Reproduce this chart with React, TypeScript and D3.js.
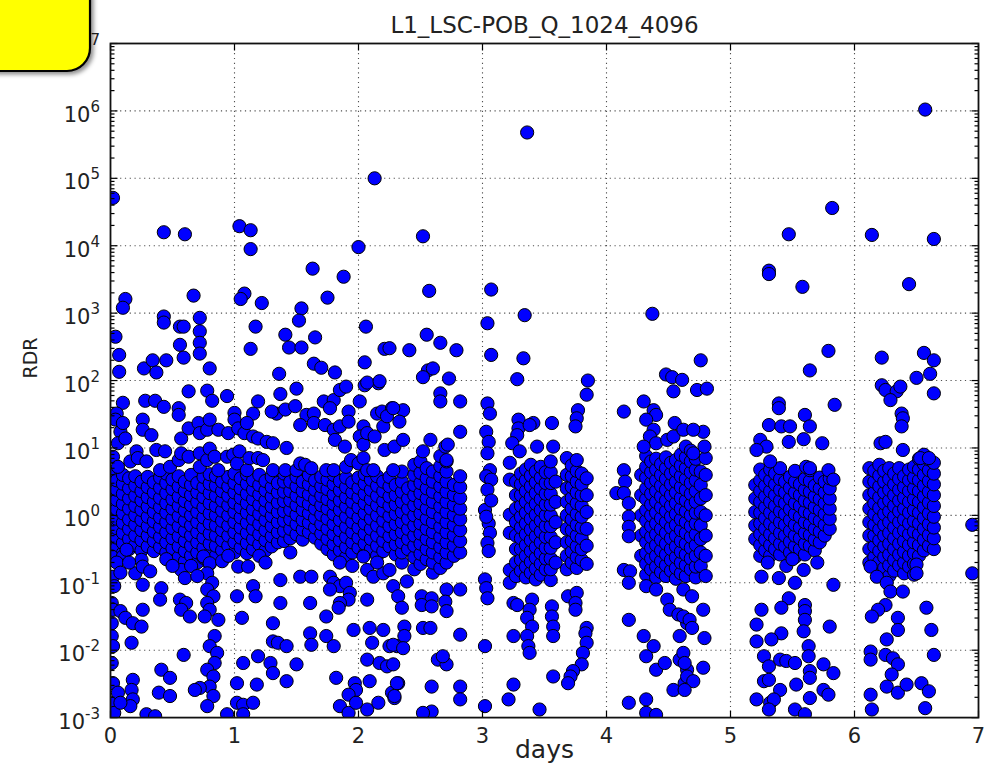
import React from "react";
import * as d3 from "d3";

const titleText = "L1_LSC-POB_Q_1024_4096";
const xLabelText = "days";
const yLabelText = "RDR";
const xTickValues = [0, 1, 2, 3, 4, 5, 6, 7];
const yTickExponents = [-3, -2, -1, 0, 1, 2, 3, 4, 5, 6, 7];

// isolated points: [day, log10(RDR)]
const highOutliers: [number, number][] = [
  [0.02, 4.71], [0.43, 4.2], [0.6, 4.17], [1.04, 4.29], [1.13, 4.23], [1.13, 3.95], [2.13, 5.0], [2.0, 3.98],
  [1.63, 3.66], [1.88, 3.54], [0.12, 3.21], [0.1, 3.08], [0.67, 3.26], [1.08, 3.29], [1.05, 3.21], [1.22, 3.15],
  [1.54, 3.07], [1.52, 2.89], [1.75, 3.23], [0.43, 2.95], [0.43, 2.86], [0.56, 2.8], [0.59, 2.8], [0.72, 2.93],
  [0.72, 2.73], [0.72, 2.56], [0.72, 2.4], [0.56, 2.53], [0.59, 2.34], [0.04, 2.65], [0.07, 2.38], [0.07, 2.13],
  [0.27, 2.18], [0.34, 2.3], [0.37, 2.12], [0.45, 2.3], [0.8, 2.18], [1.17, 2.8], [1.13, 2.47], [1.41, 2.68],
  [1.44, 2.49], [1.54, 2.49], [1.65, 2.64], [1.64, 2.25], [1.7, 2.19], [1.81, 2.12], [1.36, 2.1], [2.06, 2.8],
  [2.21, 2.47], [2.05, 2.27], [2.07, 1.97], [2.17, 1.99],
  [2.52, 4.14], [2.57, 3.33], [2.55, 2.68], [2.66, 2.56], [2.79, 2.45], [2.41, 2.45], [2.25, 2.48], [2.56, 2.15],
  [2.6, 2.18], [2.52, 2.05], [2.73, 2.03], [3.07, 3.35], [3.04, 2.85], [3.07, 2.38], [3.34, 2.97], [3.33, 2.33],
  [3.36, 5.68], [3.28, 2.02], [3.85, 2.0], [4.37, 2.99], [4.48, 2.09], [4.53, 2.05], [4.61, 2.01],
  [6.57, 6.02], [5.82, 4.56], [5.47, 4.17], [6.14, 4.16], [6.64, 4.1], [5.31, 3.63], [5.31, 3.58], [5.58, 3.39],
  [6.44, 3.43], [4.76, 2.3], [5.79, 2.44], [5.64, 2.15], [6.22, 2.34], [6.56, 2.41], [6.64, 2.3], [6.61, 2.1], [6.5, 2.04],
];

const upperA: [number, number][] = [
  [0.1, 1.67], [0.05, 1.51], [0.28, 1.7], [0.36, 1.7], [0.43, 1.61], [0.55, 1.59], [0.55, 1.49], [0.63, 1.84],
  [0.78, 1.85], [0.82, 1.7], [0.94, 1.77], [1.0, 1.52], [1.15, 1.51], [1.19, 1.69], [1.37, 1.8], [1.34, 1.51],
  [1.3, 1.54], [1.41, 1.57], [1.5, 1.88], [1.49, 1.62], [1.58, 1.49], [1.64, 1.51], [1.72, 1.69], [1.8, 1.71],
  [1.77, 1.59], [1.85, 1.86], [1.9, 1.91], [1.92, 1.54], [2.01, 1.69], [2.05, 1.93], [2.16, 1.96], [2.15, 1.51],
  [2.19, 1.54], [2.27, 1.59],
  [0.04, 1.42], [0.08, 1.24], [0.1, 1.37], [0.06, 1.07], [0.12, 1.14], [0.26, 1.42], [0.26, 1.27], [0.33, 1.19],
  [0.37, 0.97], [0.44, 0.95], [0.57, 1.14], [0.63, 1.29], [0.71, 1.37], [0.72, 1.22], [0.78, 1.27], [0.8, 1.42],
  [0.87, 1.27], [0.95, 1.22], [1.0, 1.42], [1.03, 1.29], [1.08, 1.22], [1.1, 1.37], [1.15, 1.17], [1.19, 1.14],
  [1.26, 1.09], [1.31, 1.07], [1.42, 1.0], [1.53, 1.34], [1.64, 1.37], [1.73, 1.34], [1.8, 1.27], [1.81, 1.12],
  [1.85, 1.32], [1.92, 1.39], [1.89, 1.02], [2.04, 1.32], [2.01, 1.17], [2.04, 1.05], [2.07, 1.22], [2.13, 1.17],
  [2.2, 1.32], [2.23, 1.47], [2.21, 0.97], [2.29, 1.02],
  [0.02, 0.87], [0.06, 0.72], [0.16, 0.8], [0.21, 0.95], [0.22, 0.85], [0.29, 0.8], [0.4, 0.67], [0.48, 0.72],
  [0.55, 0.82], [0.57, 0.92], [0.63, 0.87], [0.72, 0.92], [0.72, 0.72], [0.78, 0.82], [0.8, 0.99], [0.84, 0.87],
  [0.87, 0.67], [0.94, 0.87], [0.99, 0.9], [1.02, 0.77], [1.04, 0.95], [1.1, 0.67], [1.12, 0.85], [1.19, 0.85],
  [1.23, 0.82], [1.31, 0.67], [1.41, 0.67], [1.5, 0.67], [1.53, 0.77], [1.57, 0.75], [1.62, 0.7], [1.74, 0.67],
  [1.8, 0.67], [1.9, 0.72], [1.94, 0.82], [2.0, 0.77], [2.04, 0.85], [2.07, 0.67], [2.12, 0.67], [2.28, 0.67],
  [2.66, 1.81], [2.66, 1.69], [2.82, 1.69], [2.36, 1.56], [2.28, 1.59], [2.33, 1.39], [2.82, 1.24], [2.36, 1.12],
  [2.58, 1.12], [2.52, 0.95], [2.7, 1.02], [2.72, 1.05], [2.71, 0.82],
];

const lowerA: [number, number][] = [
  [0.01, -0.61], [0.02, -0.91], [0.03, -1.05], [0.01, -1.3], [0.02, -1.4], [0.01, -1.6], [0.01, -1.79], [0.02, -1.94],
  [0.01, -2.19], [0.02, -2.49], [0.01, -2.78], [0.03, -2.93], [0.1, -0.61], [0.13, -0.51], [0.2, -0.86], [0.25, -0.66],
  [0.26, -0.76], [0.32, -0.83], [0.26, -1.03], [0.41, -1.08], [0.4, -1.25], [0.08, -1.42], [0.12, -1.52], [0.18, -1.6],
  [0.25, -1.65], [0.26, -1.4], [0.17, -1.89], [0.41, -2.29], [0.48, -2.41], [0.39, -2.63], [0.48, -2.68], [0.18, -2.44],
  [0.17, -2.59], [0.18, -2.73], [0.16, -2.83], [0.06, -2.63], [0.08, -2.78], [0.29, -2.95], [0.36, -2.98], [0.57, -0.81],
  [0.6, -0.93], [0.56, -1.25], [0.61, -1.3], [0.57, -1.4], [0.64, -1.5], [0.59, -2.07], [0.75, -0.61], [0.8, -0.71],
  [0.78, -0.86], [0.82, -1.0], [0.78, -1.1], [0.83, -1.2], [0.78, -1.3], [0.8, -1.4], [0.76, -1.5], [0.84, -1.79],
  [0.8, -1.94], [0.86, -2.04], [0.84, -2.19], [0.78, -2.29], [0.83, -2.39], [0.8, -2.54], [0.72, -2.56], [0.68, -2.59],
  [0.83, -2.68], [0.78, -2.83], [0.87, -1.55], [1.03, -0.76], [1.11, -0.76], [1.02, -1.2], [1.15, -1.05], [1.17, -1.2],
  [1.06, -1.52], [1.07, -2.19], [1.02, -2.49], [1.18, -2.51], [1.02, -2.78], [1.07, -2.81], [1.15, -2.78], [0.94, -2.95],
  [1.07, -2.95], [1.37, -0.96], [1.37, -1.3], [1.31, -1.6], [1.31, -1.87], [1.35, -1.89], [1.42, -1.94], [1.29, -2.19],
  [1.31, -2.34], [1.42, -2.46], [1.5, -2.21], [1.19, -2.09], [1.53, -0.91], [1.62, -0.91], [1.61, -1.3], [1.74, -1.5],
  [1.61, -1.75], [1.62, -1.92], [1.74, -1.79], [1.8, -1.94], [1.82, -2.41], [1.85, -2.83], [1.92, -2.93], [1.97, -2.49],
  [1.98, -2.59], [1.92, -2.66], [1.98, -2.78], [2.07, -2.88], [2.09, -2.46], [2.16, -2.78], [2.07, -2.14], [2.17, -2.19],
  [2.23, -2.24], [2.32, -2.49], [2.27, -2.63], [2.29, -2.71], [1.77, -0.91], [1.8, -1.0], [1.85, -1.05], [1.77, -1.1],
  [1.9, -1.0], [1.93, -1.15], [1.92, -1.25], [1.85, -1.3], [1.84, -1.37], [2.07, -1.25], [1.96, -1.7], [2.09, -1.67],
  [2.2, -1.7], [2.11, -1.89], [2.25, -1.94], [2.31, -1.94], [2.04, -0.61], [2.07, -0.81], [2.12, -0.91], [2.2, -0.86],
  [2.25, -0.81], [2.28, -1.05],
  [0.05, -0.7], [0.08, -0.85], [0.15, -0.7], [0.45, -0.65], [0.5, -0.75], [0.65, -0.75], [0.7, -0.9], [0.9, -0.68],
  [0.95, -0.6], [1.2, -0.6], [1.25, -0.7], [1.45, -0.55], [1.85, -0.7], [1.95, -0.75], [2.15, -0.7],
  [2.39, -0.98], [2.32, -1.2], [2.35, -1.37], [2.51, -1.2], [2.59, -1.23], [2.51, -1.33], [2.59, -1.35], [2.71, -1.1],
  [2.82, -1.1], [2.7, -1.28], [2.71, -1.42], [2.37, -1.65], [2.37, -1.79], [2.52, -1.67], [2.58, -1.67], [2.28, -1.92],
  [2.36, -1.97], [2.82, -1.77], [2.64, -2.14], [2.71, -2.21], [2.68, -2.09], [2.28, -2.21], [2.31, -2.49], [2.29, -2.68],
  [2.59, -2.54], [2.59, -2.91], [2.52, -2.93], [2.82, -2.54], [2.82, -2.73],
];

const scatterMiddle: [number, number][] = [
  [3.04, 1.66], [3.06, 1.51], [3.03, 1.24], [3.05, 1.09], [3.04, 0.92], [3.06, 0.67], [3.03, 0.58], [3.07, 0.53],
  [3.04, 0.38], [3.02, 0.08], [3.05, -0.12], [3.06, -0.26], [3.04, -0.41], [3.05, -0.53], [3.02, -0.95], [3.03, -1.08],
  [3.04, -1.23], [3.02, -1.94], [3.02, -2.83], [3.07, 0.22], [3.03, -0.02],
  [3.29, 1.42], [3.29, 1.29], [3.28, 1.19], [3.41, 1.37], [3.38, 1.34], [3.56, 1.37], [3.44, 1.02], [3.24, 1.07],
  [3.3, 0.95], [3.57, 1.02], [3.77, 1.56], [3.76, 1.44], [3.75, 1.32], [3.84, 1.79],
  [3.25, -1.3], [3.28, -1.33], [3.4, -1.25], [3.38, -1.4], [3.36, -1.52], [3.4, -1.65], [3.56, -1.35], [3.56, -1.5],
  [3.57, -1.65], [3.57, -1.79], [3.36, -1.79], [3.25, -1.79], [3.37, -1.94], [3.38, -2.04], [3.57, -2.39], [3.25, -2.51],
  [3.21, -2.73], [3.46, -2.88], [3.69, -1.2], [3.76, -1.15], [3.75, -1.3], [3.75, -1.4], [3.84, -1.67], [3.83, -1.75],
  [3.84, -1.89], [3.81, -2.04], [3.8, -2.21], [3.73, -2.31], [3.71, -2.39], [3.69, -2.49],
  [4.14, 1.54], [4.14, 0.67], [4.15, 0.5], [4.08, 0.33], [4.14, 0.33], [4.18, 0.18], [4.18, -0.02], [4.18, -0.17],
  [4.18, -0.31], [4.14, -0.81], [4.19, -0.83], [4.18, -1.0], [4.18, -1.55], [4.18, -2.78],
  [4.3, 1.69], [4.38, 1.56], [4.4, 1.49], [4.32, 1.42], [4.38, 1.27], [4.35, 1.17], [4.4, 1.07], [4.49, 1.12],
  [4.54, 1.17], [4.3, 1.02], [4.55, 1.37], [4.62, 1.27], [4.54, 1.84], [4.73, 1.86], [4.81, 1.88], [4.78, 1.24],
  [4.79, 1.02], [4.7, 0.92], [4.7, 1.27],
  [4.32, -1.05], [4.4, -1.1], [4.49, -1.25], [4.51, -1.4], [4.58, -1.47], [4.65, -1.6], [4.59, -1.79], [4.3, -1.79],
  [4.38, -1.94], [4.32, -2.09], [4.4, -2.29], [4.47, -2.19], [4.59, -2.14], [4.65, -2.29], [4.63, -2.49], [4.54, -2.59],
  [4.32, -2.73], [4.32, -2.93], [4.4, -2.96], [4.62, -1.1], [4.69, -1.2], [4.78, -1.4], [4.62, -1.5], [4.67, -1.55],
  [4.69, -1.67], [4.79, -1.82], [4.62, -2.04], [4.63, -2.19], [4.78, -2.26], [4.65, -2.39], [4.7, -2.46], [4.63, -2.59],
];

const scatterRight: [number, number][] = [
  [5.39, 1.66], [5.39, 1.59], [5.84, 1.64], [5.6, 1.49], [5.64, 1.32], [5.31, 1.34], [5.41, 1.32], [5.48, 1.32],
  [5.24, 1.12], [5.29, 1.02], [5.47, 1.09], [5.59, 1.13], [5.74, 1.07], [5.21, 0.97], [5.32, 0.8], [5.61, 0.72],
  [5.64, 0.7], [5.79, 0.67], [5.83, 0.53],
  [5.25, -0.91], [5.39, -0.93], [5.52, -1.0], [5.59, -0.81], [5.83, -1.03], [5.47, -1.23], [5.41, -1.37], [5.25, -1.4],
  [5.21, -1.62], [5.6, -1.33], [5.6, -1.42], [5.6, -1.55], [5.59, -1.72], [5.8, -1.65], [5.41, -1.75], [5.21, -1.87],
  [5.33, -1.84], [5.63, -1.94], [5.63, -2.09], [5.27, -2.09], [5.31, -2.24], [5.4, -2.14], [5.45, -2.16], [5.52, -2.19],
  [5.64, -2.31], [5.64, -2.41], [5.75, -2.21], [5.83, -2.34], [5.27, -2.46], [5.31, -2.44], [5.4, -2.59], [5.53, -2.51],
  [5.75, -2.59], [5.79, -2.66], [5.64, -2.71], [5.21, -2.73], [5.32, -2.78], [5.35, -2.73], [5.31, -2.88], [5.52, -2.88],
  [5.6, -2.95], [5.3, -0.7], [5.45, -0.75], [5.5, -0.65], [5.7, -0.7],
  [6.22, 1.93], [6.25, 1.86], [6.34, 1.84], [6.37, 1.91], [6.29, 1.71], [6.64, 1.81], [6.38, 1.51], [6.39, 1.44],
  [6.38, 1.32], [6.21, 1.07], [6.25, 1.09], [6.39, 0.97], [6.53, 0.85], [6.6, 0.85],
  [6.13, -0.76], [6.18, -0.91], [6.26, -1.0], [6.29, -1.13], [6.39, -1.13], [6.5, -0.73], [6.5, -0.86], [6.25, -1.33],
  [6.19, -1.4], [6.14, -1.5], [6.35, -1.52], [6.35, -1.7], [6.58, -1.37], [6.62, -1.7], [6.26, -1.84], [6.13, -2.02],
  [6.13, -2.14], [6.25, -2.07], [6.31, -2.12], [6.35, -2.21], [6.3, -2.36], [6.26, -2.54], [6.35, -2.63], [6.42, -2.51],
  [6.54, -2.49], [6.6, -2.61], [6.64, -2.07], [6.13, -2.66], [6.14, -2.88], [6.57, -2.86],
  [6.95, -0.14], [6.95, -0.86],
];

// dense bands, one string per time column: "day: log10(RDR) values"
const coreA = [
  "0.00: -0.55 -0.4 -0.27 -0.12 0.02 0.16 0.3 0.45 0.6",
  "0.05: -0.48 -0.33 -0.19 -0.05 0.09 0.23 0.38 0.52",
  "0.10: -0.56 -0.41 -0.26 -0.11 0.03 0.17 0.32 0.47 0.6",
  "0.15: -0.5 -0.35 -0.2 -0.06 0.1 0.25 0.4 0.55",
  "0.20: -0.44 -0.3 -0.14 0.0 0.14 0.29 0.44 0.58",
  "0.25: -0.52 -0.37 -0.22 -0.07 0.08 0.22 0.36 0.5",
  "0.30: -0.46 -0.3 -0.16 -0.02 0.13 0.27 0.42 0.57",
  "0.35: -0.53 -0.38 -0.24 -0.09 0.05 0.2 0.34 0.49",
  "0.40: -0.47 -0.32 -0.17 -0.03 0.12 0.26 0.41 0.56",
  "0.45: -0.55 -0.4 -0.25 -0.1 0.04 0.18 0.33 0.48 0.62",
  "0.50: -0.49 -0.34 -0.19 -0.05 0.1 0.24 0.39 0.53",
  "0.55: -0.62 -0.46 -0.31 -0.16 -0.01 0.14 0.28 0.43 0.58",
  "0.60: -0.68 -0.53 -0.38 -0.23 -0.08 0.07 0.21 0.36 0.5",
  "0.65: -0.6 -0.45 -0.3 -0.15 0.0 0.15 0.3 0.45 0.6",
  "0.70: -0.7 -0.55 -0.4 -0.25 -0.1 0.05 0.2 0.34 0.48",
  "0.75: -0.63 -0.48 -0.33 -0.18 -0.03 0.12 0.27 0.42 0.57",
  "0.80: -0.72 -0.57 -0.42 -0.27 -0.12 0.03 0.18 0.33 0.47 0.61",
  "0.85: -0.6 -0.45 -0.3 -0.15 0.0 0.14 0.29 0.44 0.58",
  "0.90: -0.52 -0.37 -0.22 -0.08 0.07 0.22 0.36 0.5",
  "0.95: -0.45 -0.3 -0.15 0.0 0.15 0.29 0.43 0.57",
  "1.00: -0.55 -0.4 -0.25 -0.1 0.05 0.19 0.34 0.48 0.62",
  "1.05: -0.48 -0.33 -0.18 -0.03 0.12 0.26 0.4 0.55",
  "1.10: -0.56 -0.41 -0.26 -0.11 0.04 0.18 0.32 0.47 0.61",
  "1.15: -0.5 -0.35 -0.2 -0.05 0.09 0.24 0.38 0.52",
  "1.20: -0.43 -0.28 -0.13 0.02 0.16 0.31 0.45 0.6",
  "1.25: -0.52 -0.37 -0.22 -0.07 0.08 0.22 0.37 0.51",
  "1.30: -0.46 -0.31 -0.16 -0.01 0.13 0.28 0.42 0.57",
  "1.35: -0.4 -0.25 -0.1 0.05 0.19 0.34 0.48",
  "1.40: -0.38 -0.23 -0.08 0.06 0.21 0.35 0.5 0.62",
  "1.45: -0.34 -0.2 -0.06 0.08 0.22 0.36 0.5",
  "1.50: -0.28 -0.13 0.01 0.15 0.29 0.43 0.57",
  "1.55: -0.36 -0.21 -0.07 0.08 0.22 0.36 0.5",
  "1.60: -0.25 -0.11 0.03 0.17 0.31 0.46 0.6",
  "1.65: -0.33 -0.18 -0.04 0.1 0.24 0.38 0.52",
  "1.70: -0.42 -0.27 -0.13 0.01 0.15 0.29 0.43 0.57",
  "1.75: -0.5 -0.35 -0.2 -0.05 0.1 0.24 0.39 0.53",
  "1.80: -0.58 -0.43 -0.28 -0.13 0.02 0.17 0.31 0.46 0.6",
  "1.85: -0.52 -0.37 -0.22 -0.07 0.08 0.22 0.37 0.51",
  "1.90: -0.62 -0.47 -0.32 -0.17 -0.02 0.13 0.27 0.42 0.56",
  "1.95: -0.55 -0.4 -0.25 -0.1 0.05 0.2 0.34 0.49",
  "2.00: -0.48 -0.33 -0.18 -0.03 0.12 0.27 0.41 0.56",
  "2.05: -0.57 -0.42 -0.27 -0.12 0.03 0.18 0.32 0.47 0.61",
  "2.10: -0.5 -0.35 -0.2 -0.05 0.1 0.24 0.38 0.53",
  "2.15: -0.6 -0.45 -0.3 -0.15 0.0 0.15 0.29 0.44 0.58",
  "2.20: -0.53 -0.38 -0.23 -0.08 0.07 0.21 0.36 0.5",
  "2.25: -0.46 -0.31 -0.16 -0.01 0.14 0.28 0.43 0.57",
  "2.30: -0.58 -0.43 -0.28 -0.13 0.02 0.16 0.3 0.45",
  "2.35: -0.7 -0.55 -0.4 -0.25 -0.1 0.05 0.2 0.35 0.5 0.65",
  "2.40: -0.5 -0.35 -0.2 -0.05 0.1 0.25 0.4",
  "2.45: -0.8 -0.62 -0.45 -0.3 -0.15 0.0 0.15 0.3 0.45 0.6 0.75",
  "2.50: -0.72 -0.57 -0.42 -0.27 -0.12 0.03 0.18 0.33 0.48 0.63 0.8",
  "2.55: -0.65 -0.5 -0.35 -0.2 -0.05 0.1 0.25 0.4 0.55 0.7",
  "2.60: -0.85 -0.7 -0.55 -0.4 -0.25 -0.1 0.05 0.2 0.35 0.5 0.65",
  "2.66: -0.78 -0.62 -0.47 -0.32 -0.17 -0.02 0.13 0.28 0.43 0.58 0.73 0.88",
  "2.71: -0.7 -0.55 -0.4 -0.25 -0.1 0.05 0.2 0.35 0.5 0.65 0.8",
  "2.77: -0.6 -0.45 -0.3 -0.15 0.0 0.15 0.3 0.45",
  "2.82: -0.55 -0.38 -0.22 -0.06 0.1 0.26 0.42 0.58",
];

const coreB = [
  "3.22: 0.78 0.53 0.01 -0.26 -0.81 -1.0",
  "3.27: -0.9 -0.7 -0.5 -0.3 -0.1 0.1 0.3 0.5",
  "3.31: -0.82 -0.66 -0.5 -0.34 -0.18 -0.02 0.14 0.3 0.46 0.62",
  "3.35: -0.92 -0.76 -0.6 -0.44 -0.28 -0.12 0.04 0.2 0.36 0.52 0.68",
  "3.39: -0.85 -0.69 -0.53 -0.37 -0.21 -0.05 0.11 0.27 0.43 0.59 0.75",
  "3.43: -0.95 -0.79 -0.63 -0.47 -0.31 -0.15 0.01 0.17 0.33 0.49 0.65",
  "3.47: -0.88 -0.72 -0.56 -0.4 -0.24 -0.08 0.08 0.24 0.4 0.56 0.72",
  "3.51: -0.8 -0.64 -0.48 -0.32 -0.16 0.0 0.16 0.32 0.48 0.64",
  "3.55: -0.96 -0.8 -0.64 -0.48 -0.32 -0.16 0.0 0.16 0.32 0.48 0.64 0.8",
  "3.59: -0.7 -0.4 -0.1 0.2 0.5",
  "3.68: -0.8 -0.6 -0.4 -0.2 0.0 0.2 0.4 0.6 0.85",
  "3.72: -0.7 -0.54 -0.38 -0.22 -0.06 0.1 0.26 0.42 0.58 0.74",
  "3.76: -0.78 -0.62 -0.46 -0.3 -0.14 0.02 0.18 0.34 0.5 0.66 0.82",
  "3.80: -0.66 -0.5 -0.34 -0.18 -0.02 0.14 0.3 0.46 0.62",
  "3.84: -0.72 -0.45 -0.2 0.05 0.3 0.55",
];

const coreC = [
  "4.28: -0.6 -0.3 0.0 0.3 0.6",
  "4.32: -0.88 -0.72 -0.56 -0.4 -0.24 -0.08 0.08 0.24 0.4 0.56 0.72 0.88",
  "4.36: -0.8 -0.64 -0.48 -0.32 -0.16 0.0 0.16 0.32 0.48 0.64 0.8",
  "4.40: -0.92 -0.76 -0.6 -0.44 -0.28 -0.12 0.04 0.2 0.36 0.52 0.68 0.84",
  "4.44: -0.84 -0.68 -0.52 -0.36 -0.2 -0.04 0.12 0.28 0.44 0.6 0.76",
  "4.48: -0.9 -0.74 -0.58 -0.42 -0.26 -0.1 0.06 0.22 0.38 0.54 0.7 0.86",
  "4.52: -0.82 -0.66 -0.5 -0.34 -0.18 -0.02 0.14 0.3 0.46 0.62 0.78",
  "4.56: -0.94 -0.78 -0.62 -0.46 -0.3 -0.14 0.02 0.18 0.34 0.5 0.66 0.82",
  "4.60: -0.86 -0.7 -0.54 -0.38 -0.22 -0.06 0.1 0.26 0.42 0.58 0.74 0.9",
  "4.64: -0.9 -0.74 -0.58 -0.42 -0.26 -0.1 0.06 0.22 0.38 0.54 0.7 0.86 1.02",
  "4.68: -0.8 -0.64 -0.48 -0.32 -0.16 0.0 0.16 0.32 0.48 0.64 0.8 0.96",
  "4.72: -0.92 -0.76 -0.6 -0.44 -0.28 -0.12 0.04 0.2 0.36 0.52 0.68 0.84",
  "4.76: -0.75 -0.55 -0.35 -0.15 0.05 0.25 0.45 0.65",
  "4.80: -0.9 -0.6 -0.3 0.0 0.3 0.6 0.85",
];

const coreD = [
  "5.20: -0.35 -0.15 0.05 0.25 0.45",
  "5.24: -0.6 -0.44 -0.28 -0.12 0.04 0.2 0.36 0.52 0.68",
  "5.28: -0.52 -0.36 -0.2 -0.04 0.12 0.28 0.44 0.6",
  "5.32: -0.6 -0.44 -0.28 -0.12 0.04 0.2 0.36 0.52 0.68",
  "5.36: -0.5 -0.34 -0.18 -0.02 0.14 0.3 0.46 0.62",
  "5.40: -0.58 -0.42 -0.26 -0.1 0.06 0.22 0.38 0.54 0.7",
  "5.44: -0.46 -0.3 -0.14 0.02 0.18 0.34 0.5",
  "5.48: -0.55 -0.39 -0.23 -0.07 0.09 0.25 0.41 0.57",
  "5.52: -0.62 -0.46 -0.3 -0.14 0.02 0.18 0.34 0.5 0.66",
  "5.56: -0.5 -0.34 -0.18 -0.02 0.14 0.3 0.46",
  "5.60: -0.58 -0.42 -0.26 -0.1 0.06 0.22 0.38 0.54",
  "5.64: -0.45 -0.29 -0.13 0.03 0.19 0.35 0.51 0.67",
  "5.68: -0.52 -0.36 -0.2 -0.04 0.12 0.28 0.44",
  "5.72: -0.4 -0.24 -0.08 0.08 0.24 0.4 0.56",
  "5.76: -0.3 -0.14 0.02 0.18 0.34 0.5",
  "5.80: -0.2 -0.05 0.1 0.25 0.4 0.55",
];

const coreE = [
  "6.12: -0.7 -0.5 -0.3 -0.1 0.1 0.3 0.5 0.7",
  "6.16: -0.62 -0.46 -0.3 -0.14 0.02 0.18 0.34 0.5 0.66",
  "6.20: -0.85 -0.69 -0.53 -0.37 -0.21 -0.05 0.11 0.27 0.43 0.59 0.75",
  "6.24: -0.78 -0.62 -0.46 -0.3 -0.14 0.02 0.18 0.34 0.5 0.66",
  "6.28: -0.9 -0.74 -0.58 -0.42 -0.26 -0.1 0.06 0.22 0.38 0.54 0.7",
  "6.32: -0.82 -0.66 -0.5 -0.34 -0.18 -0.02 0.14 0.3 0.46 0.62",
  "6.36: -0.74 -0.58 -0.42 -0.26 -0.1 0.06 0.22 0.38 0.54 0.7",
  "6.40: -0.86 -0.7 -0.54 -0.38 -0.22 -0.06 0.1 0.26 0.42 0.58",
  "6.44: -0.76 -0.6 -0.44 -0.28 -0.12 0.04 0.2 0.36 0.52 0.68",
  "6.48: -0.88 -0.72 -0.56 -0.4 -0.24 -0.08 0.08 0.24 0.4 0.56 0.72",
  "6.52: -0.6 -0.44 -0.28 -0.12 0.04 0.2 0.36 0.52 0.68 0.84",
  "6.56: -0.52 -0.36 -0.2 -0.04 0.12 0.28 0.44 0.6 0.76 0.9",
  "6.60: -0.45 -0.29 -0.13 0.03 0.19 0.35 0.51 0.67 0.83",
  "6.64: -0.5 -0.34 -0.18 -0.02 0.14 0.3 0.46 0.62 0.78",
];

function expandColumns(list: string[]): [number, number][] {
  const out: [number, number][] = [];
  for (const s of list) {
    const [d, rest] = s.split(":");
    const day = parseFloat(d);
    for (const v of rest.trim().split(/\s+/)) out.push([day, parseFloat(v)]);
  }
  return out;
}

const W = 990;
const H = 765;
const L = 110.5, R = 978.5, T = 43.5, B = 717.6;

export default function App() {
  const x = d3.scaleLinear().domain([0, 7]).range([L, R]);
  const y = d3.scaleLog().domain([1e-3, 1e7]).range([B, T]);

  const all: [number, number][] = [
    ...expandColumns(coreA), ...expandColumns(coreB), ...expandColumns(coreC),
    ...expandColumns(coreD), ...expandColumns(coreE),
    ...upperA, ...lowerA, ...scatterMiddle, ...scatterRight, ...highOutliers,
  ];
  const pts = all.map(([d, e]) => ({ day: d, rdr: Math.pow(10, e) }));

  const minor: number[] = [];
  for (let k = -3; k < 7; k++) for (let m = 2; m <= 9; m++) minor.push(m * Math.pow(10, k));

  const font = "'DejaVu Sans', sans-serif";

  return (
    <svg width={W} height={H} style={{ position: "absolute", left: 0, top: 0, background: "#fff" }}>
      <defs>
        <clipPath id="plotclip">
          <rect x={L} y={T} width={R - L} height={B - T} />
        </clipPath>
        <filter id="shadow" x="-20%" y="-20%" width="150%" height="150%">
          <feDropShadow dx="2.5" dy="2.5" stdDeviation="2" floodColor="#000" floodOpacity="0.45" />
        </filter>
      </defs>
      <rect x={0} y={0} width={W} height={H} fill="#fff" />
      <rect x={L} y={T} width={R - L} height={B - T} fill="#fff" />
      {/* grid */}
      <g stroke="#333" strokeWidth={1.1} strokeDasharray="1.2,3.6" opacity={0.85}>
        {xTickValues.slice(1, -1).map((t) => (
          <line key={"gx" + t} x1={x(t)} x2={x(t)} y1={T} y2={B} />
        ))}
        {yTickExponents.slice(1, -1).map((e) => (
          <line key={"gy" + e} x1={L} x2={R} y1={y(Math.pow(10, e))} y2={y(Math.pow(10, e))} />
        ))}
      </g>
      {/* points */}
      <g clipPath="url(#plotclip)">
        {pts.map((p, i) => (
          <circle key={i} cx={x(p.day)} cy={y(p.rdr)} r={6.6} fill="#0000ff" stroke="#000" strokeWidth={1} />
        ))}
      </g>
      {/* ticks */}
      <g stroke="#000" strokeWidth={1.2}>
        {xTickValues.map((t) => (
          <g key={"tx" + t}>
            <line x1={x(t)} x2={x(t)} y1={B} y2={B - 7} />
            <line x1={x(t)} x2={x(t)} y1={T} y2={T + 7} />
          </g>
        ))}
        {yTickExponents.map((e) => (
          <g key={"ty" + e}>
            <line x1={L} x2={L + 7} y1={y(Math.pow(10, e))} y2={y(Math.pow(10, e))} />
            <line x1={R} x2={R - 7} y1={y(Math.pow(10, e))} y2={y(Math.pow(10, e))} />
          </g>
        ))}
        {minor.map((v, i) => (
          <g key={"m" + i}>
            <line x1={L} x2={L + 4} y1={y(v)} y2={y(v)} />
            <line x1={R} x2={R - 4} y1={y(v)} y2={y(v)} />
          </g>
        ))}
      </g>
      {/* frame */}
      <rect x={L} y={T} width={R - L} height={B - T} fill="none" stroke="#111" strokeWidth={1.8} />
      {/* tick labels */}
      <g fontFamily={font} fill="#222">
        {xTickValues.map((t) => (
          <text key={"lx" + t} x={x(t)} y={743} fontSize={21} textAnchor="middle">
            {t}
          </text>
        ))}
        {yTickExponents.map((e) => (
          <text key={"ly" + e} x={100} y={y(Math.pow(10, e)) + 11} fontSize={21} textAnchor="end">
            <tspan>10</tspan>
            <tspan dy={-10} fontSize={15}>{e < 0 ? "-" + Math.abs(e) : String(e)}</tspan>
          </text>
        ))}
      </g>
      <text x={(L + R) / 2} y={33} fontFamily={font} fontSize={23} textAnchor="middle" fill="#222">
        {titleText}
      </text>
      <text
        transform={`translate(37,358) rotate(-90)`}
        fontFamily={font}
        fontSize={19}
        textAnchor="middle"
        fill="#222"
      >
        {yLabelText}
      </text>
      <text x={(L + R) / 2} y={758} fontFamily={font} fontSize={25} textAnchor="middle" fill="#222">
        {xLabelText}
      </text>
      {/* yellow callout box */}
      <path
        d="M -6 -6 H 90 V 48 A 23 23 0 0 1 67 71 H -6 Z"
        fill="#ffff00"
        stroke="#000"
        strokeWidth={2.2}
        filter="url(#shadow)"
      />
    </svg>
  );
}
